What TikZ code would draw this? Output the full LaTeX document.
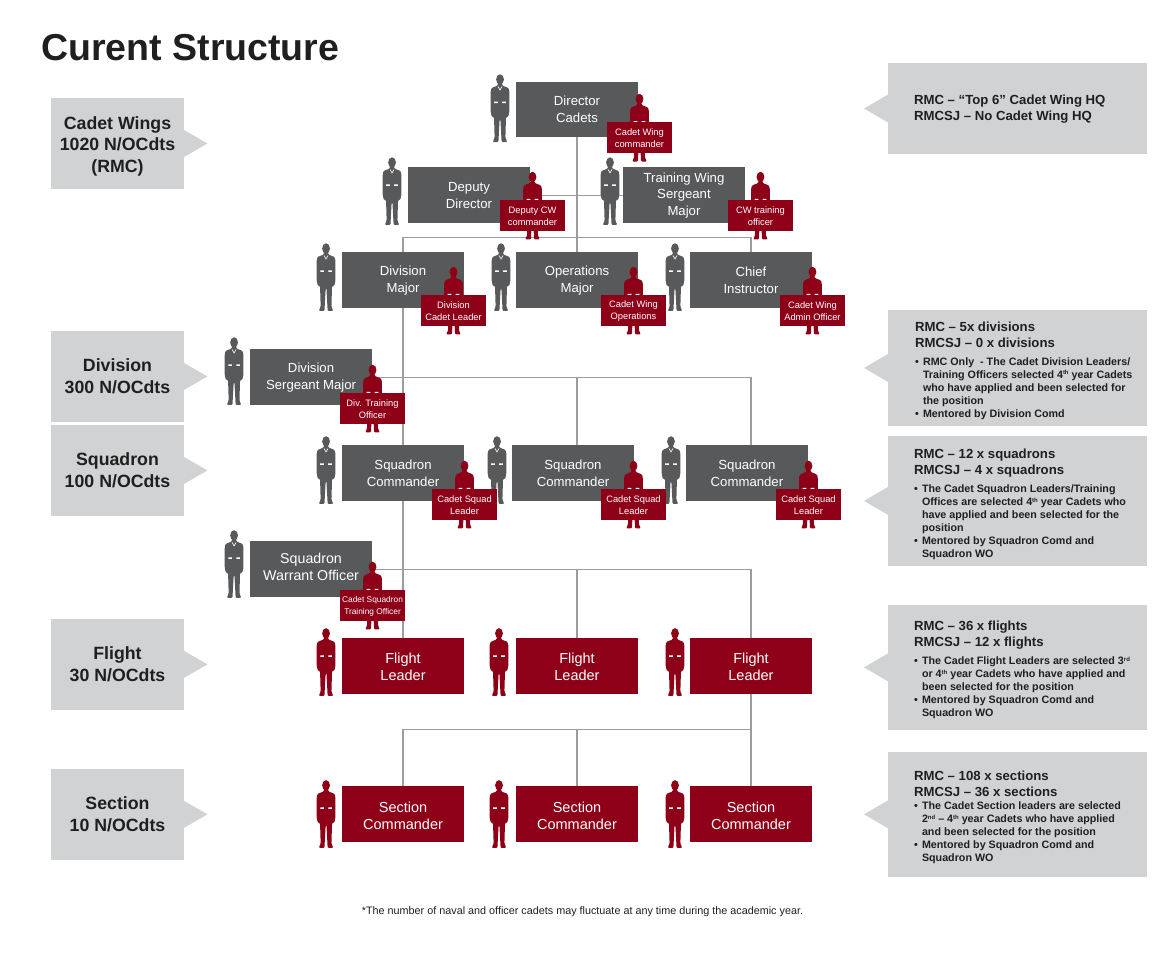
\documentclass[tikz,border=0pt]{standalone}
\usepackage{fontspec}
\setmainfont{Liberation Sans}
\usepackage{xcolor}
\usepackage{tikz}
\usetikzlibrary{positioning}
\definecolor{cgrey}{HTML}{58595B}
\definecolor{cred}{HTML}{8E0018}
\definecolor{cside}{HTML}{D1D2D4}
\definecolor{cline}{HTML}{9C9C9C}
\definecolor{ctext}{HTML}{1F1F1F}
\pgfdeclarelayer{lines}
\pgfdeclarelayer{front}
\pgfsetlayers{lines,main,front}
\tikzstyle{greybox} = [rectangle, minimum width=2.44cm, minimum height=1.12cm, inner sep=0pt, outer sep=0pt, align=center, text=white, fill=cgrey, font=\fontsize{7.5}{9.4}\selectfont]
\tikzstyle{redbox} = [rectangle, minimum width=2.44cm, minimum height=1.12cm, inner sep=0pt, outer sep=0pt, align=center, text=white, fill=cred, font=\fontsize{8.25}{9.7}\selectfont]
\tikzstyle{badge} = [rectangle, minimum width=1.3cm, minimum height=0.62cm, inner sep=0pt, outer sep=0pt, align=center, text=white, fill=cred, font=\fontsize{5.3}{6.9}\selectfont]
\tikzstyle{sidebox} = [rectangle, minimum width=2.66cm, minimum height=1.82cm, inner sep=0pt, outer sep=0pt, align=center, text=ctext, fill=cside, font=\bfseries\fontsize{10.1}{12.2}\selectfont]
\tikzstyle{infobox} = [rectangle, minimum width=5.18cm, inner sep=0pt, outer sep=0pt, fill=cside]
\tikzstyle{infotext} = [inner sep=0pt, outer sep=0pt, align=left, text=ctext, font=\bfseries\fontsize{6.1}{7.4}\selectfont]
\tikzstyle{link} = [draw=cline, line width=0.65pt]
\tikzset{
  pics/officer/.style={code={
    \fill[#1] (0,5) ellipse [x radius=0.078cm, y radius=0.104cm];
    \fill[#1, rounded corners=0.02cm] (-2.2,8.5) -- (-2.2,11) -- (-8.5,13.5) -- (-9.4,17) -- (-9.4,37) -- (-8.2,42.5) -- (-6,42.5)
      -- (-5.4,63) -- (-7.2,67.5) -- (-1.6,67.5) -- (-0.4,45) -- (0.4,45) -- (1.6,67.5) -- (7.2,67.5) -- (5.4,63)
      -- (6,42.5) -- (8.2,42.5) -- (9.4,37) -- (9.4,17) -- (8.5,13.5) -- (2.2,11) -- (2.2,8.5) -- cycle;
    \fill[white] (-5.8,27) rectangle (-2.2,28.5) (2.2,27) rectangle (5.8,28.5);
  }},
  pics/greyofficer/.style={code={
    \pic {officer=cgrey};
    \draw[white, line width=0.35pt] (-2,12) -- (0,15.5) -- (2,12);
  }}
}
\newcommand{\infoh}[1]{{\fontsize{7.5}{9}\selectfont #1}}
\newcommand{\infob}{\makebox[0.16cm][l]{\textbullet}}
\newcommand{\infoc}{\hspace*{0.16cm}}
\newcommand{\infos}[1]{\raisebox{1.9pt}{\fontsize{3.4}{4}\selectfont #1}}

\begin{document}
\begin{tikzpicture}[x=0.02cm, y=-0.02cm]
    \useasboundingbox (0,0) rectangle (1170,973);
    \node (title) [anchor=west, text=ctext, inner sep=0pt, font=\bfseries\fontsize{21.35}{24}\selectfont] at (41,48) {Curent Structure};

    % Define blocks
    \node (dircad) [greybox] at (577,109.5) {Director\\Cadets};
    \node (depdir) [greybox, below left=0.6cm and -0.28cm of dircad] {Deputy\\Director};
    \node (trnsgt) [greybox, below right=0.6cm and -0.3cm of dircad] {Training Wing\\Sergeant\\Major};
    \node (opsmaj) [greybox, below=2.3cm of dircad] {Operations\\Major};
    \node (divmaj) [greybox, left=1.04cm of opsmaj] {Division\\Major};
    \node (chfins) [greybox, right=1.04cm of opsmaj] {Chief\\Instructor};
    \node (divsgt) [greybox, below left=0.82cm and -0.6cm of divmaj] {Division\\Sergeant Major};
    \node (sqnb) [greybox, below=2.74cm of opsmaj, xshift=-0.08cm] {Squadron\\Commander};
    \node (sqna) [greybox, left=0.96cm of sqnb] {Squadron\\Commander};
    \node (sqnc) [greybox, right=1.04cm of sqnb] {Squadron\\Commander};
    \node (sqnwo) [greybox, below left=0.8cm and -0.6cm of sqna, font=\fontsize{8.1}{9.4}\selectfont] {Squadron\\Warrant Officer\rule[-2.8pt]{0pt}{0pt}};
    \node (fltb) [redbox, below=6.6cm of opsmaj] {Flight\\Leader};
    \node (flta) [redbox, left=1.04cm of fltb] {Flight\\Leader};
    \node (fltc) [redbox, right=1.04cm of fltb] {Flight\\Leader};
    \node (secb) [redbox, below=1.84cm of fltb] {\rule{0pt}{8pt}Section\\Commander};
    \node (seca) [redbox, left=1.04cm of secb] {\rule{0pt}{8pt}Section\\Commander};
    \node (secc) [redbox, right=1.04cm of secb] {\rule{0pt}{8pt}Section\\Commander};

    % Cadet appointments
    \begin{pgfonlayer}{front}
    \node (bwing) [badge, below right=-0.3cm and -0.62cm of dircad] {Cadet Wing\\commander};
    \node (bdep) [badge, below right=-0.46cm and -0.6cm of depdir] {Deputy CW\\commander};
    \node (btrn) [badge, below right=-0.46cm and -0.34cm of trnsgt] {CW training\\officer};
    \node (bdiv) [badge, below right=-0.26cm and -0.86cm of divmaj] {Division\\Cadet Leader};
    \node (bops) [badge, below right=-0.26cm and -0.74cm of opsmaj] {Cadet Wing\\Operations};
    \node (badm) [badge, below right=-0.26cm and -0.64cm of chfins] {Cadet Wing\\Admin Officer};
    \node (bdtr) [badge, below right=-0.24cm and -0.64cm of divsgt] {Div. Training\\Officer};
    \node (bsqa) [badge, below right=-0.24cm and -0.64cm of sqna] {Cadet Squad\\Leader};
    \node (bsqb) [badge, below right=-0.24cm and -0.66cm of sqnb] {Cadet Squad\\Leader};
    \node (bsqc) [badge, below right=-0.24cm and -0.64cm of sqnc] {Cadet Squad\\Leader};
    \node (bsto) [badge, below right=-0.14cm and -0.64cm of sqnwo, font=\fontsize{4.75}{6.9}\selectfont] {Cadet Squadron\\Training Officer};
    \end{pgfonlayer}

    % Figures
    \foreach \n/\dx/\dy in {dircad/16/7, depdir/16/10, trnsgt/13/10, divmaj/16/9, opsmaj/15/9, chfins/15/9, divsgt/16/12, sqna/16/9, sqnb/15/9, sqnc/15/9, sqnwo/16/11}
        \pic at ([shift={(-\dx,-\dy)}]\n.north west) {greyofficer};
    \foreach \n/\dx/\dy in {flta/16/10, fltb/17/10, fltc/15/10, seca/16/6, secb/17/6, secc/15/6}
        \pic at ([shift={(-\dx,-\dy)}]\n.north west) {officer=cred};
    \foreach \n in {bwing,bdep,btrn,bdiv,bops,badm,bdtr,bsqa,bsqb,bsqc,bsto}
        \pic at ([yshift=0.57cm]\n.north) {officer=cred};

    % Draw lines
    \begin{pgfonlayer}{lines}
    \draw [link] (dircad) -- (opsmaj);
    \draw [link] (depdir.east) -- (trnsgt.west);
    \draw [link] (divmaj.north) -- ++(0,0.3cm) -| (chfins.north);
    \draw [link] (divmaj.south) -- (flta.north);
    \draw [link] (divsgt.east) -| ([xshift=0.08cm]sqnc.north);
    \draw [link] ([xshift=0.08cm]sqnb.north) |- (divsgt.east);
    \draw [link] (sqnwo.east) -| (fltc.north);
    \draw [link] (fltb.north) |- (sqnwo.east);
    \coordinate (secbus) at ([yshift=1.14cm]secb.north);
    \draw [link] (seca.north) |- (secbus) -| (secc.north);
    \draw [link] (secb.north) -- (secbus);
    \draw [link] (fltc.south) -- (secc.north);
    \end{pgfonlayer}

    % Left column
    \node (sidewing) [sidebox] at (117.5,143.5) {\rule{0pt}{10.5pt}Cadet Wings\\1020 N/OCdts\\(RMC)};
    \node (sidediv) [sidebox, below=2.84cm of sidewing] {Division\\300 N/OCdts};
    \node (sidesqn) [sidebox, below=0.06cm of sidediv] {Squadron\\100 N/OCdts};
    \node (sideflt) [sidebox, below=2.06cm of sidesqn] {Flight\\30 N/OCdts};
    \node (sidesec) [sidebox, below=1.18cm of sideflt] {Section\\10 N/OCdts};
    \foreach \n in {sidewing,sidediv,sidesqn,sideflt,sidesec}
        \fill [cside] ([yshift=0.27cm]\n.east) -- ++(0.47cm,-0.27cm) -- ++(-0.47cm,-0.27cm) -- cycle;

    % Right column
    \node (infohq) [infobox, minimum height=1.82cm] at (1017.5,108.5) {};
    \node (infodiv) [infobox, minimum height=2.32cm, below=3.12cm of infohq] {};
    \node (infosqn) [infobox, minimum height=2.6cm, below=0.2cm of infodiv] {};
    \node (infoflt) [infobox, minimum height=2.5cm, below=0.78cm of infosqn] {};
    \node (infosec) [infobox, minimum height=2.5cm, below=0.44cm of infoflt] {};
    \foreach \n in {infohq,infodiv,infosqn,infoflt,infosec}
        \fill [cside] ([yshift=0.28cm]\n.west) -- ++(-0.48cm,-0.28cm) -- ++(0.48cm,-0.28cm) -- cycle;

    \node (texthq) [infotext, below right=0.64cm and 0.52cm of infohq.north west] {\infoh{RMC -- “Top 6” Cadet Wing HQ}\\[1.7pt]\infoh{RMCSJ -- No Cadet Wing HQ}};
    \node (textdiv) [infotext, below right=0.24cm and 0.54cm of infodiv.north west] {\infoh{RMC -- 5x divisions}\\[1.7pt]\infoh{RMCSJ -- 0 x divisions}\\[2.6pt]
        \infob RMC Only\ \ - The Cadet Division Leaders/\\\infoc Training Officers selected 4\infos{th} year Cadets\\\infoc who have applied and been selected for\\\infoc the position\\\infob Mentored by Division Comd};
    \node (textsqn) [infotext, below right=0.27cm and 0.52cm of infosqn.north west] {\infoh{RMC -- 12 x squadrons}\\[1.7pt]\infoh{RMCSJ -- 4 x squadrons}\\[2.6pt]
        \infob The Cadet Squadron Leaders/Training\\\infoc Offices are selected 4\infos{th} year Cadets who\\\infoc have applied and been selected for the\\\infoc position\\\infob Mentored by Squadron Comd and\\\infoc Squadron WO};
    \node (textflt) [infotext, below right=0.33cm and 0.52cm of infoflt.north west] {\infoh{RMC -- 36 x flights}\\[1.7pt]\infoh{RMCSJ -- 12 x flights}\\[2.6pt]
        \infob The Cadet Flight Leaders are selected 3\infos{rd}\\\infoc or 4\infos{th} year Cadets who have applied and\\\infoc been selected for the position\\\infob Mentored by Squadron Comd and\\\infoc Squadron WO};
    \node (textsec) [infotext, below right=0.39cm and 0.52cm of infosec.north west] {\infoh{RMC -- 108 x sections}\\[1.7pt]\infoh{RMCSJ -- 36 x sections}\\
        \infob The Cadet Section leaders are selected\\\infoc 2\infos{nd} -- 4\infos{th} year Cadets who have applied\\\infoc and been selected for the position\\\infob Mentored by Squadron Comd and\\\infoc Squadron WO};

    \node (note) [text=ctext, inner sep=0pt, font=\fontsize{6.15}{7}\selectfont] at (582.5,912) {*The number of naval and officer cadets may fluctuate at any time during the academic year.};
\end{tikzpicture}
\end{document}
